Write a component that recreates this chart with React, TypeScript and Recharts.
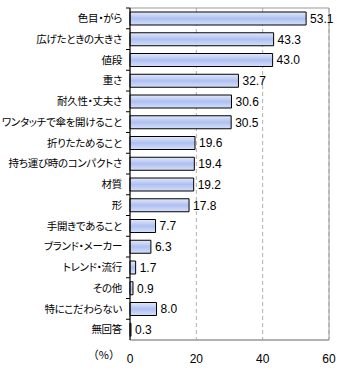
import { BarChart, Bar, XAxis, YAxis, CartesianGrid, LabelList, ReferenceArea } from "recharts";

const categories = [
  "色目・がら",
  "広げたときの大きさ",
  "値段",
  "重さ",
  "耐久性・丈夫さ",
  "ワンタッチで傘を開けること",
  "折りたためること",
  "持ち運び時のコンパクトさ",
  "材質",
  "形",
  "手開きであること",
  "ブランド・メーカー",
  "トレンド・流行",
  "その他",
  "特にこだわらない",
  "無回答",
];
const values = [53.1, 43.3, 43.0, 32.7, 30.6, 30.5, 19.6, 19.4, 19.2, 17.8, 7.7, 6.3, 1.7, 0.9, 8.0, 0.3];
const xTicks = [0, 20, 40, 60];

const data = categories.map((name, i) => ({ name, value: values[i] }));

const W = 340;
const H = 370;
const MARGIN = { top: 8, right: 11, bottom: 0, left: 0 };
const X_AXIS_H = 30;
const BAND = (H - MARGIN.top - MARGIN.bottom - X_AXIS_H) / categories.length;

const FONT = "'Noto Sans CJK JP', sans-serif";

function CategoryTick(props: any) {
  const { x, y, payload } = props;
  return (
    <g>
      <line x1={x - 4} x2={x} y1={y - BAND / 2} y2={y - BAND / 2} stroke="#000" />
      <text
        x={x - 8}
        y={y}
        dy="0.35em"
        textAnchor="end"
        fontSize={10.5}
        fill="#000"
        fontFamily={FONT}
        style={{ fontFeatureSettings: "'palt'", letterSpacing: "-0.3px" }}
      >
        {payload.value}
      </text>
    </g>
  );
}

export default function App() {
  return (
    <div style={{ position: "absolute", left: 0, top: 0, background: "#fff" }}>
      <BarChart width={W} height={H} data={data} layout="vertical" margin={MARGIN}>
        <defs>
          <linearGradient id="barFill" x1="0" y1="0" x2="0" y2="1">
            <stop offset="0%" stopColor="#e2e9fb" />
            <stop offset="50%" stopColor="#aec0f1" />
            <stop offset="100%" stopColor="#d6e0fa" />
          </linearGradient>
        </defs>
        <CartesianGrid horizontal={false} strokeDasharray="4 3" stroke="#b0b0b0" />
        <ReferenceArea x1={0} x2={60} fill="none" stroke="#999" strokeWidth={1} />
        <XAxis
          type="number"
          domain={[0, 60]}
          ticks={xTicks}
          height={X_AXIS_H}
          axisLine={{ stroke: "#999" }}
          tickLine={false}
          tickMargin={8}
          tick={{ fontSize: 12, fill: "#000", fontFamily: "'Liberation Sans', Arial, sans-serif" }}
          label={{ value: "（%）", position: "left", offset: 10, fontSize: 11, fill: "#000", fontFamily: FONT }}
        />
        <YAxis
          type="category"
          dataKey="name"
          width={130}
          axisLine={{ stroke: "#000" }}
          tickLine={false}
          tickSize={0}
          tickMargin={0}
          interval={0}
          tick={<CategoryTick />}
        />
        <Bar dataKey="value" barSize={13} fill="url(#barFill)" stroke="#000" strokeWidth={1} isAnimationActive={false}>
          <LabelList
            dataKey="value"
            position="right"
            offset={4}
            fontSize={12}
            fill="#000"
            fontFamily="'Liberation Sans', Arial, sans-serif"
            formatter={(v: any) => Number(v).toFixed(1)}
          />
        </Bar>
      </BarChart>
    </div>
  );
}
